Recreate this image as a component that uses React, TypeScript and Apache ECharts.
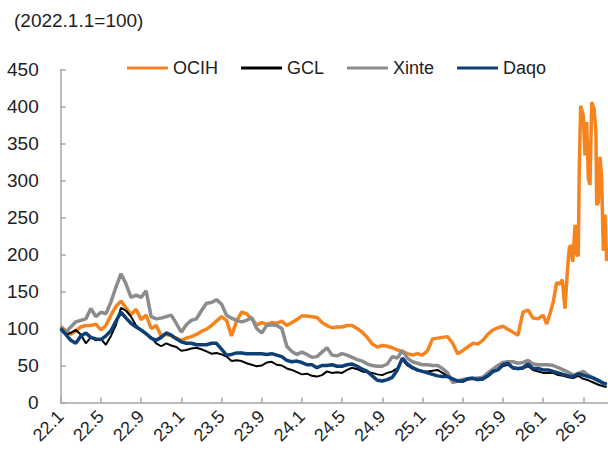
import React, { useEffect, useRef } from "react";
import * as echarts from "echarts";

// x positions: months since 2022.1 (half-month steps, last point mid-July 2026)
const monthSteps: number[] = [];
for (let i = 0; i <= 108; i++) monthSteps.push(i / 2);
monthSteps.push(54.33);

const ocihValues = [
  103, 97, 92, 97, 102, 104, 104, 106, 98, 104, 118, 130, 137, 128, 119, 126, 112, 118, 100, 104,
  90, 92, 90, 87, 84, 87, 89, 92, 96, 99, 104, 110, 116, 111, 90, 110, 122, 120, 113, 105,
  108, 106, 108, 107, 110, 104, 108, 112, 117, 117, 116, 115, 108, 104, 101, 102, 102, 104, 104, 100,
  95, 88, 79, 75, 77, 76, 74, 71, 69, 66, 64, 66, 64, 70, 86, 87, 88, 89, 80, 66,
  70, 75, 80, 79, 84, 92, 98, 101, 103, 99, 95, 91, 122, 125, 114, 113,
];
// OCIH late-period detail: [month, value]
const ocihTail: [number, number][] = [
  [48.0, 118], [48.36, 106], [48.69, 120], [49.01, 136], [49.35, 162], [49.68, 160], [49.91, 166],
  [50.18, 127], [50.41, 176], [50.61, 209], [50.75, 213], [50.95, 190], [51.18, 240], [51.34, 200],
  [51.5, 198], [51.6, 314], [51.74, 401], [52.0, 388], [52.17, 334], [52.34, 379], [52.5, 303],
  [52.67, 294], [52.84, 406], [53.07, 397], [53.26, 365], [53.33, 267], [53.49, 270], [53.66, 332],
  [53.83, 303], [53.99, 205], [54.16, 254], [54.33, 191],
];
const gclValues = [
  100, 92, 94, 98, 92, 80, 88, 84, 86, 78, 90, 105, 128, 124, 116, 104, 98, 92, 88, 80,
  76, 80, 77, 75, 70, 71, 73, 74, 72, 69, 66, 67, 65, 62, 56, 57, 56, 53, 51, 49,
  50, 54, 55, 51, 50, 46, 44, 41, 38, 39, 36, 35, 37, 42, 40, 41, 40, 44, 47, 45,
  42, 41, 40, 38, 37, 40, 42, 46, 58, 50, 46, 43, 42, 42, 43, 44, 40, 36, 31, 29,
  28, 31, 32, 30, 31, 35, 41, 44, 49, 51, 46, 45, 46, 49, 44, 42, 40, 40, 40, 37,
  36, 34, 33, 36, 32, 30, 27, 24, 22, 21,
];
const xinteValues = [
  102, 95, 102, 109, 111, 113, 127, 116, 122, 120, 136, 156, 174, 160, 142, 145, 142, 151, 116, 113,
  114, 116, 118, 107, 95, 105, 111, 113, 124, 134, 135, 139, 133, 118, 114, 111, 109, 111, 115, 100,
  94, 104, 105, 104, 100, 76, 69, 65, 68, 65, 61, 62, 68, 74, 64, 63, 66, 64, 61, 58,
  56, 52, 50, 49, 49, 52, 62, 60, 70, 60, 55, 53, 51, 51, 50, 50, 46, 40, 27, 29,
  31, 32, 32, 33, 34, 40, 45, 50, 54, 55, 55, 53, 54, 57, 52, 51, 51, 51, 50, 47,
  44, 41, 37, 39, 42, 37, 33, 29, 26, 24,
];
const daqoValues = [
  100, 92, 84, 80, 90, 94, 88, 86, 85, 90, 97, 110, 122, 114, 107, 102, 98, 93, 87, 84,
  88, 94, 91, 86, 82, 80, 80, 78, 78, 78, 80, 80, 72, 64, 65, 67, 67, 66, 66, 66,
  66, 65, 66, 64, 62, 57, 55, 56, 54, 51, 51, 47, 50, 50, 51, 49, 49, 51, 52, 49,
  45, 42, 36, 30, 29, 31, 34, 44, 60, 52, 47, 44, 42, 40, 38, 36, 35, 35, 32, 29,
  29, 32, 33, 31, 32, 36, 42, 44, 51, 53, 47, 46, 47, 52, 46, 46, 44, 44, 42, 40,
  38, 36, 35, 39, 37, 35, 33, 30, 26, 25,
];

const seriesNames = ["OCIH", "GCL", "Xinte", "Daqo"];
const seriesColors = ["#F5841F", "#000000", "#8C8C8C", "#0E3F75"];
const seriesWidths = [3.5, 2, 3.5, 3.5];
const yTickMax = 450;
const yTickStep = 50;
const xTickValues = [0, 4, 8, 12, 16, 20, 24, 28, 32, 36, 40, 44, 48, 52];

const FONT = '"Liberation Sans", Arial, sans-serif';

function pairs(xs: number[], ys: number[]): [number, number][] {
  return ys.map((y, i) => [xs[i], y]);
}

export default function App() {
  const ref = useRef<HTMLDivElement>(null);
  useEffect(() => {
    if (!ref.current) return;
    const chart = echarts.init(ref.current, undefined, { renderer: "svg" });
    const ocihData: [number, number][] = pairs(monthSteps, ocihValues).concat(ocihTail);
    const allData = [
      ocihData,
      pairs(monthSteps, gclValues),
      pairs(monthSteps, xinteValues),
      pairs(monthSteps, daqoValues),
    ];
    chart.setOption({
      animation: false,
      backgroundColor: "#ffffff",
      textStyle: { fontFamily: FONT },
      graphic: [
        {
          type: "text",
          left: 14,
          top: 11,
          style: { text: "(2022.1.1=100)", font: `19px ${FONT}`, fill: "#222222" },
        },
      ],
      legend: {
        data: seriesNames,
        left: 122,
        top: 54,
        icon: "rect",
        itemWidth: 41,
        itemHeight: 3,
        itemGap: 23,
        textStyle: { fontSize: 18, color: "#222222", fontFamily: FONT },
      },
      grid: { left: 60.7, right: 0.6, top: 69.5, bottom: 53.5, containLabel: false },
      xAxis: {
        type: "value",
        min: 0,
        max: 54.4,
        axisLine: { show: true, lineStyle: { color: "#A6A6A6", width: 1.5 } },
        axisTick: {
          show: true,
          inside: true,
          length: 5,
          customValues: xTickValues,
          lineStyle: { color: "#A6A6A6", width: 1.5 },
        },
        splitLine: { show: false },
        axisLabel: {
          customValues: xTickValues,
          rotate: 45,
          margin: 11,
          fontSize: 18,
          color: "#222222",
          fontFamily: FONT,
          formatter: (v: number) => {
            const yy = 22 + Math.floor(v / 12);
            const mm = (v % 12) + 1;
            return `${yy}.${mm}`;
          },
        },
      },
      yAxis: {
        type: "value",
        min: 0,
        max: yTickMax,
        interval: yTickStep,
        axisLine: { show: true, lineStyle: { color: "#A6A6A6", width: 1.5 } },
        axisTick: { show: true, inside: true, length: 5, lineStyle: { color: "#A6A6A6", width: 1.5 } },
        splitLine: { show: false },
        axisLabel: { margin: 22, fontSize: 19, color: "#222222", fontFamily: FONT },
      },
      series: seriesNames.map((name, k) => ({
        name,
        type: "line",
        data: allData[k],
        symbol: "none",
        smooth: false,
        lineStyle: { color: seriesColors[k], width: seriesWidths[k] },
        itemStyle: { color: seriesColors[k] },
        z: 2 + k,
      })),
    });
    return () => chart.dispose();
  }, []);
  return (
    <div
      ref={ref}
      style={{ position: "fixed", left: 0, top: 0, width: 608, height: 456 }}
    />
  );
}
